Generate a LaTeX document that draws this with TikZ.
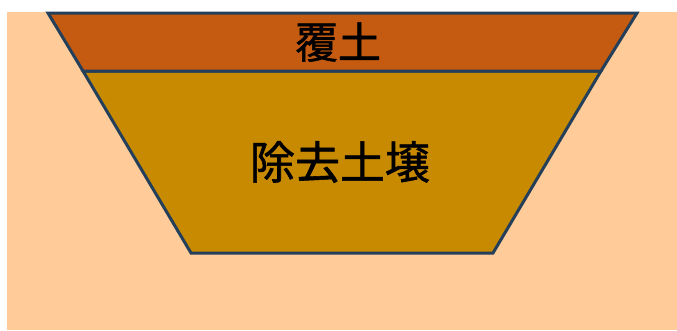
\documentclass[tikz,border=0pt]{standalone}
\usepackage{fontspec}
\newfontfamily\cjk[FakeBold=1.2]{Noto Sans CJK JP}
\definecolor{bgpeach}{HTML}{FFCB99}
\definecolor{topsoil}{HTML}{C55A11}
\definecolor{soilfill}{HTML}{C88A00}
\definecolor{edgeblue}{HTML}{243F5A}
\tikzset{
  layer/.style={draw=edgeblue, line width=3pt, line join=miter},
  label/.style={font=\cjk\fontsize{43}{46}\selectfont, text=black, inner sep=0pt}
}
\begin{document}
\begin{tikzpicture}[x=1pt,y=-1pt]
\useasboundingbox (0,0) rectangle (677,330);
\fill[bgpeach] (7,12) rectangle (677,330);
\coordinate (tl) at (48,13);
\coordinate (tr) at (637,13);
\coordinate (ml) at (83,71);
\coordinate (mr) at (601,71);
\coordinate (bl) at (191,253);
\coordinate (br) at (493,253);
\filldraw[layer, fill=soilfill] (ml) -- (mr) -- (br) -- (bl) -- cycle;
\filldraw[layer, fill=topsoil] (tl) -- (tr) -- (mr) -- (ml) -- cycle;
\node[label] (cover) at (338,42) {覆土};
\node[label, font=\cjk\fontsize{45}{48}\selectfont] (removed) at (340,162) {除去土壌};
\end{tikzpicture}
\end{document}
